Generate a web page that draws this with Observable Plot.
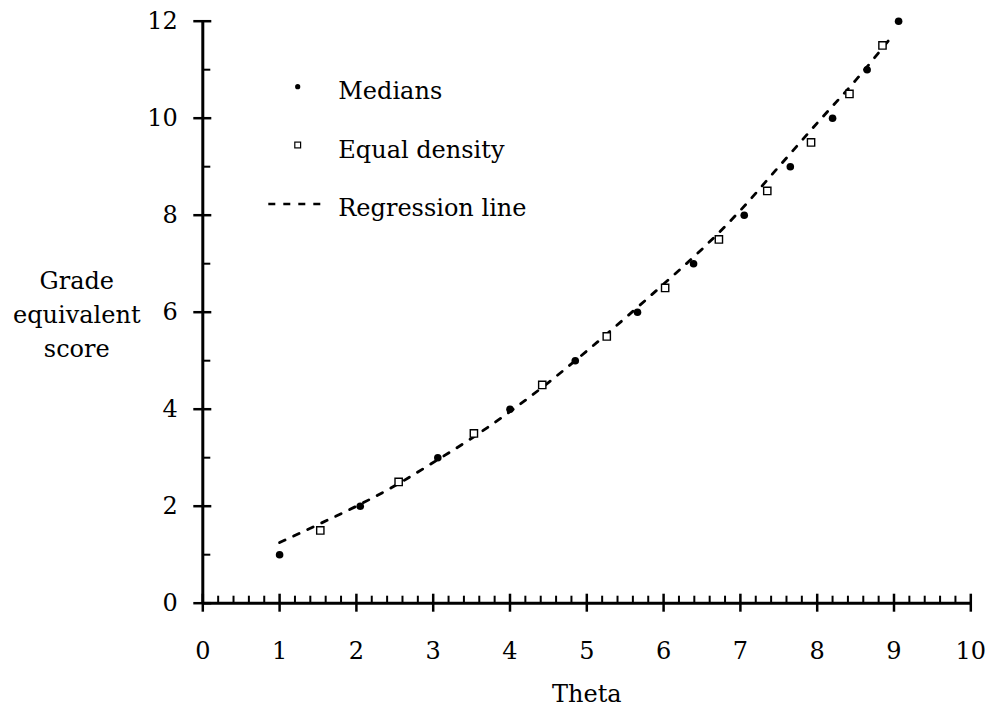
<!DOCTYPE html>
<html>
<head>
<meta charset="utf-8">
<script src="https://cdn.jsdelivr.net/npm/d3@7"></script>
<script src="https://cdn.jsdelivr.net/npm/@observablehq/plot@0.6"></script>
<style>
  html, body { margin: 0; padding: 0; background: #fff; }
</style>
</head>
<body>
<div id="chart"></div>
<script>
const FONT = "DejaVu Serif";

// Medians (filled dots)
const medianGrade = [1, 2, 3, 4, 5, 6, 7, 8, 9, 10, 11, 12];
const medianTheta = [1.00, 2.05, 3.06, 4.00, 4.85, 5.66, 6.39, 7.05, 7.65, 8.20, 8.65, 9.06];

// Equal density (open squares)
const densityGrade = [1.5, 2.5, 3.5, 4.5, 5.5, 6.5, 7.5, 8.5, 9.5, 10.5, 11.5];
const densityTheta = [1.53, 2.55, 3.53, 4.42, 5.26, 6.02, 6.72, 7.35, 7.92, 8.42, 8.85];

// Regression line
const regTheta = [1.0, 1.5, 2.0, 2.5, 3.0, 3.5, 4.0, 4.5, 5.0, 5.5, 6.0, 6.5, 7.0, 7.5, 8.0, 8.5, 9.0];
const regGrade = [1.25, 1.62, 2.0, 2.42, 2.9, 3.4, 3.95, 4.55, 5.2, 5.88, 6.58, 7.3, 8.1, 9.0, 9.9, 10.78, 11.74];

// Axes
const xMajorTicks = [0, 1, 2, 3, 4, 5, 6, 7, 8, 9, 10];
const xMinorTicks = d3.range(0, 50).map(i => i / 5).filter(v => !Number.isInteger(v));
const yMajorTicks = [0, 2, 4, 6, 8, 10, 12];
const yMinorTicks = [1, 3, 5, 7, 9, 11];

const xLabel = "Theta";
const yLabel = "Grade\nequivalent\nscore";
const legendLabels = ["Medians", "Equal density", "Regression line"];

const medians = medianTheta.map((t, i) => ({theta: t, grade: medianGrade[i]}));
const density = densityTheta.map((t, i) => ({theta: t, grade: densityGrade[i]}));
const regression = regTheta.map((t, i) => ({theta: t, grade: regGrade[i]}));

// layout
const W = 989, H = 714;
const mL = 202.3, mR = 18.7, mT = 20.7, mB = 111.3;
const frameW = W - mL - mR;   // 768
const frameH = H - mT - mB;   // 582

function legendMark(index, scales, values, dims) {
  const g = d3.create("svg:g")
    .attr("font-family", FONT)
    .attr("font-size", 24)
    .attr("text-anchor", "start")
    .attr("fill", "black");
  const x0 = dims.marginLeft, y0 = dims.marginTop;
  const symX = x0 + 95.4;
  const textX = x0 + 136;
  g.append("circle").attr("cx", symX).attr("cy", y0 + 66).attr("r", 2.6).attr("fill", "black");
  g.append("rect").attr("x", symX - 2.9).attr("y", y0 + 124.3 - 2.9)
    .attr("width", 5.8).attr("height", 5.8)
    .attr("fill", "white").attr("stroke", "black").attr("stroke-width", 1.2);
  g.append("line").attr("x1", x0 + 66).attr("x2", x0 + 121)
    .attr("y1", y0 + 183.3).attr("y2", y0 + 183.3)
    .attr("stroke", "black").attr("stroke-width", 2.5)
    .attr("stroke-dasharray", "7,8");
  const baselines = [78.5, 136.8, 195.3];
  legendLabels.forEach((lab, i) => {
    g.append("text").attr("x", textX).attr("y", y0 + baselines[i])
      .attr("text-anchor", "start").text(lab);
  });
  return g.node();
}

const chart = Plot.plot({
  width: W,
  height: H,
  marginLeft: mL,
  marginRight: mR,
  marginTop: mT,
  marginBottom: mB,
  style: {fontFamily: FONT, fontSize: "24px", background: "white", color: "black", overflow: "visible"},
  x: {domain: [0, 10], axis: null},
  y: {domain: [0, 12], axis: null},
  marks: [
    // axis lines
    Plot.ruleY([0], {x1: 0, x2: 10, stroke: "black", strokeWidth: 3}),
    Plot.ruleX([0], {y1: 0, y2: 12, stroke: "black", strokeWidth: 3}),
    // x major ticks (crossing the axis)
    Plot.ruleX(xMajorTicks, {x: d => d, insetTop: frameH - 9, insetBottom: -9, stroke: "black", strokeWidth: 2.5}),
    // x minor ticks (pointing up)
    Plot.ruleX(xMinorTicks, {x: d => d, insetTop: frameH - 7, insetBottom: 0, stroke: "black", strokeWidth: 2}),
    // y major ticks (crossing the axis)
    Plot.ruleY(yMajorTicks, {y: d => d, insetLeft: -9, insetRight: frameW - 9, stroke: "black", strokeWidth: 2.5}),
    // y minor ticks (pointing right)
    Plot.ruleY(yMinorTicks, {y: d => d, insetLeft: 0, insetRight: frameW - 8, stroke: "black", strokeWidth: 2}),
    // tick labels
    Plot.text(xMajorTicks, {x: d => d, y: 0, text: d => String(d), dy: 48, fontSize: 24, fill: "black"}),
    Plot.text(yMajorTicks, {x: 0, y: d => d, text: d => String(d), dx: -25, textAnchor: "end", fontSize: 24, fill: "black"}),
    // axis titles
    Plot.text([yLabel], {frameAnchor: "left", dx: -126, text: d => d, textAnchor: "middle", lineHeight: 1.42, fontSize: 24, fill: "black"}),
    Plot.text([xLabel], {frameAnchor: "bottom", dy: 99, text: d => d, fontSize: 24, fill: "black"}),
    // data
    Plot.line(regression, {x: "theta", y: "grade", stroke: "black", strokeWidth: 2.8, strokeDasharray: "6,9.5", curve: "monotone-x"}),
    Plot.dot(density, {x: "theta", y: "grade", symbol: "square", r: 4.1, stroke: "black", fill: "white", strokeWidth: 1.4}),
    Plot.dot(medians, {x: "theta", y: "grade", r: 3.8, fill: "black", stroke: "none"}),
    legendMark
  ]
});

document.getElementById("chart").appendChild(chart);
</script>
</body>
</html>
